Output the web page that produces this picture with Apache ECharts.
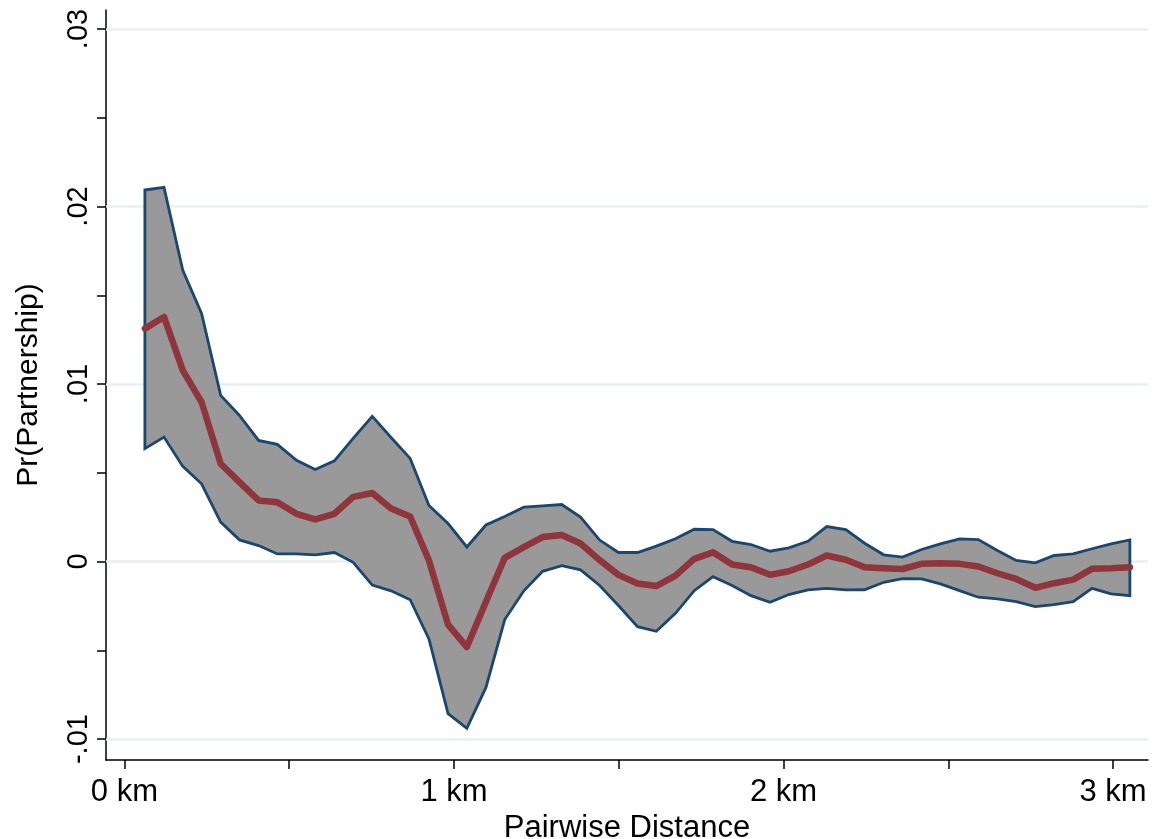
<!DOCTYPE html>
<html><head><meta charset="utf-8">
<script src="https://cdn.jsdelivr.net/npm/echarts@6/dist/echarts.min.js"></script>
<style>html,body{margin:0;padding:0;background:#fff}#c{width:1154px;height:839px}</style>
</head><body><div id="c"></div><script>
const distanceKm = [0.062, 0.120, 0.177, 0.234, 0.292, 0.349, 0.407, 0.464, 0.522, 0.579,
 0.637, 0.694, 0.752, 0.809, 0.867, 0.924, 0.982, 1.039, 1.097, 1.154,
 1.212, 1.269, 1.327, 1.384, 1.442, 1.499, 1.557, 1.614, 1.672, 1.729,
 1.786, 1.844, 1.901, 1.959, 2.016, 2.074, 2.131, 2.189, 2.246, 2.304,
 2.361, 2.419, 2.476, 2.534, 2.591, 2.649, 2.706, 2.764, 2.821, 2.879,
 2.936, 2.994, 3.051];
const upperCI = [0.02093, 0.02108, 0.01641, 0.01397, 0.00936, 0.00823, 0.00682, 0.00660, 0.00570, 0.00519,
 0.00567, 0.00694, 0.00818, 0.00699, 0.00581, 0.00316, 0.00214, 0.00082, 0.00206, 0.00254,
 0.00306, 0.00313, 0.00321, 0.00251, 0.00121, 0.00051, 0.00051, 0.00087, 0.00128, 0.00182,
 0.00180, 0.00114, 0.00096, 0.00058, 0.00077, 0.00114, 0.00197, 0.00180, 0.00103, 0.00038,
 0.00025, 0.00068, 0.00100, 0.00128, 0.00124, 0.00062, 0.00006, -0.00007, 0.00034, 0.00043,
 0.00072, 0.00100, 0.00122];
const meanPr = [0.01312, 0.01378, 0.01077, 0.00898, 0.00551, 0.00447, 0.00344, 0.00334, 0.00269, 0.00237,
 0.00269, 0.00364, 0.00386, 0.00299, 0.00254, 0.00006, -0.00355, -0.00482, -0.00226, 0.00021,
 0.00081, 0.00138, 0.00149, 0.00102, 0.00008, -0.00075, -0.00124, -0.00138, -0.00079, 0.00015,
 0.00052, -0.00017, -0.00032, -0.00075, -0.00055, -0.00017, 0.00034, 0.00010, -0.00032, -0.00038,
 -0.00042, -0.00013, -0.00010, -0.00013, -0.00028, -0.00066, -0.00098, -0.00148, -0.00122, -0.00102,
 -0.00041, -0.00038, -0.00032];
const lowerCI = [0.00636, 0.00701, 0.00536, 0.00438, 0.00222, 0.00122, 0.00090, 0.00043, 0.00043, 0.00038,
 0.00051, -0.00004, -0.00133, -0.00165, -0.00215, -0.00436, -0.00857, -0.00940, -0.00709, -0.00327,
 -0.00165, -0.00055, -0.00023, -0.00047, -0.00135, -0.00248, -0.00367, -0.00393, -0.00292, -0.00164,
 -0.00085, -0.00135, -0.00192, -0.00230, -0.00186, -0.00160, -0.00151, -0.00160, -0.00159, -0.00117,
 -0.00096, -0.00098, -0.00126, -0.00164, -0.00201, -0.00210, -0.00226, -0.00254, -0.00243, -0.00226,
 -0.00151, -0.00182, -0.00192];
const yTickValues = [-0.01, 0, 0.01, 0.02, 0.03];
const yTickLabels = ['-.01', '0', '.01', '.02', '.03'];
const yMinorTicks = [-0.01, -0.005, 0, 0.005, 0.01, 0.015, 0.02, 0.025, 0.03];
const xTickValues = [0, 1, 2, 3];
const xTickLabels = ['0 km', '1 km', '2 km', '3 km'];
const xMinorTicks = [0, 0.5, 1, 1.5, 2, 2.5, 3];

const FONT = '"Liberation Sans", Arial, Helvetica, sans-serif';
function labelFor(vals, labels, v) {
  for (let i = 0; i < vals.length; i++) if (Math.abs(vals[i] - v) < 1e-9) return labels[i];
  return '';
}
const chart = echarts.init(document.getElementById('c'), null, {renderer: 'canvas'});
chart.setOption({
  animation: false,
  backgroundColor: '#ffffff',
  grid: {left: 106, top: 10, right: 6, bottom: 79, containLabel: false, outerBoundsMode: 'none'},
  xAxis: {
    type: 'value', min: -0.056, max: 3.106,
    name: 'Pairwise Distance', nameLocation: 'middle', nameGap: 44,
    nameTextStyle: {fontFamily: FONT, fontSize: 31, color: '#000'},
    axisLine: {show: true, onZero: false, lineStyle: {color: '#000', width: 1.5}},
    axisTick: {show: true, length: 9, lineStyle: {color: '#000', width: 1.5}, customValues: xMinorTicks},
    axisLabel: {show: true, customValues: xTickValues, margin: 17, fontFamily: FONT, fontSize: 31, color: '#000',
      formatter: v => labelFor(xTickValues, xTickLabels, v)},
    splitLine: {show: false}
  },
  yAxis: {
    type: 'value', min: -0.01118, max: 0.03107,
    name: 'Pr(Partnership)', nameLocation: 'middle', nameGap: 62,
    nameTextStyle: {fontFamily: FONT, fontSize: 30, color: '#000'},
    axisLine: {show: true, onZero: false, lineStyle: {color: '#000', width: 1.5}},
    axisTick: {show: true, length: 9, lineStyle: {color: '#000', width: 1.5}, customValues: yMinorTicks},
    axisLabel: {show: true, customValues: yTickValues, rotate: 90, margin: 13, fontFamily: FONT, fontSize: 29, color: '#000',
      formatter: v => labelFor(yTickValues, yTickLabels, v)},
    splitLine: {show: false}
  },
  series: [
    {
      name: 'grid', type: 'line', z: 1, silent: true, showSymbol: false,
      data: distanceKm.map((x, i) => [x, meanPr[i]]),
      lineStyle: {opacity: 0},
      markLine: {
        silent: true, z: 1, symbol: ['none', 'none'], label: {show: false},
        lineStyle: {color: '#e8eff2', width: 2.5, type: 'solid'},
        data: yTickValues.map(v => ({yAxis: v}))
      }
    },
    {
      name: 'ci', type: 'custom', coordinateSystem: 'cartesian2d', z: 8, silent: true,
      data: [[distanceKm[0], upperCI[0]]],
      encode: {x: 0, y: 1},
      renderItem: function (params, api) {
        const pts = [];
        for (let i = 0; i < distanceKm.length; i++) pts.push(api.coord([distanceKm[i], upperCI[i]]));
        for (let i = distanceKm.length - 1; i >= 0; i--) pts.push(api.coord([distanceKm[i], lowerCI[i]]));
        return {type: 'polygon', shape: {points: pts},
          style: {fill: '#999999', stroke: '#1a476f', lineWidth: 2.8, lineJoin: 'miter'}};
      }
    },
    {
      name: 'mean', type: 'line', z: 9, silent: true, showSymbol: false, symbol: 'none',
      data: distanceKm.map((x, i) => [x, meanPr[i]]),
      lineStyle: {color: '#8f353b', width: 6.5, cap: 'round', join: 'round'}
    }
  ]
});
</script></body></html>
